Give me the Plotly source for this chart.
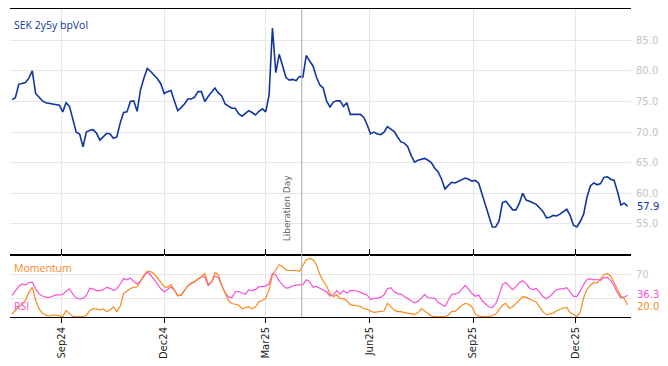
import pandas as pd
import plotly.graph_objects as go

# ---------------- data ----------------
start_date = "2024-07-19"
step = "3D"

bpvol = [
    75.3, 75.6, 77.8, 78.0, 78.1, 78.8, 80.0, 76.3, 75.7, 75.1,
    74.8, 74.7, 74.6, 74.6, 74.4, 73.3, 74.8, 74.2, 72.0, 70.0,
    69.7, 67.6, 70.0, 70.3, 70.4, 69.8, 68.7, 69.3, 69.8, 69.7,
    69.0, 69.2, 71.5, 73.2, 73.3, 75.0, 75.1, 73.4, 76.9, 78.8,
    80.4, 79.9, 79.3, 78.7, 77.9, 76.3, 76.6, 76.8, 75.1, 73.5,
    74.0, 74.6, 75.4, 75.4, 75.7, 76.6, 76.6, 75.0, 75.8, 76.5,
    77.2, 76.4, 75.9, 74.6, 74.2, 73.9, 73.9, 73.0, 72.6, 73.0,
    73.5, 73.2, 72.8, 73.4, 73.8, 73.3, 76.0, 87.0, 79.7, 82.7,
    80.9, 78.9, 78.5, 78.6, 78.4, 79.1, 79.0, 82.5, 81.6, 80.8,
    79.0, 77.7, 77.2, 75.1, 74.1, 74.9, 75.1, 75.1, 74.2, 74.8,
    72.9, 72.9, 72.8, 72.9, 72.4, 71.2, 69.7, 70.0, 69.7, 69.6,
    70.0, 70.9, 70.5, 70.1, 69.2, 68.4, 68.2, 67.6, 66.2, 65.1,
    65.4, 65.6, 65.7, 65.4, 65.0, 64.1, 63.5, 62.3, 60.7, 61.3,
    61.8, 61.7, 62.0, 62.3, 62.5, 62.3, 62.0, 62.1, 61.6, 59.8,
    57.9, 56.2, 54.5, 54.5, 55.5, 58.5, 58.7, 58.0, 57.3, 57.3,
    58.4, 60.0, 58.9, 58.7, 58.4, 58.2, 57.6, 57.0, 56.0, 56.1,
    56.4, 56.3, 56.6, 57.0, 57.4, 56.4, 54.8, 54.5, 55.4, 56.6,
    59.4, 61.2, 61.7, 61.4, 61.6, 62.6, 62.7, 62.3, 62.1, 60.3,
    58.1, 58.4, 57.9,
]

rsi = [
    36, 44, 51, 55, 53, 57.5, 58, 47, 38.5, 35,
    33, 32.5, 35, 36.7, 36.7, 37.5, 43, 47, 38, 31.5,
    30, 31, 36, 48, 46.5, 44, 44, 46, 49.4, 47.8,
    44, 47, 55, 64, 62, 65, 59, 55, 60, 68,
    75, 70, 62, 54, 47, 42, 46, 50, 45, 35,
    37, 45, 52, 57, 58.5, 63, 67, 67, 52, 59,
    68, 66, 52, 40, 33.5, 32.5, 42, 42.5, 40, 38,
    45, 44, 46, 50.5, 50.5, 51.5, 55, 72, 70, 60,
    53, 48, 49, 52, 53, 53.3, 54, 62, 59, 49.5,
    51, 48, 44.5, 42, 35, 37, 44, 38, 44, 39.5,
    44.5, 43.5, 43.3, 41, 38.5, 36.7, 29, 31, 31, 33,
    36.7, 47, 49, 42, 38.9, 38, 34, 31, 27, 23.5,
    26, 31.5, 37.5, 32, 31, 31, 24.5, 20.5, 17.5, 28,
    37.5, 38.5, 40, 46.5, 52.5, 46.5, 39, 34.5, 36.5, 27,
    21, 16.7, 15.8, 22, 36, 54, 57.5, 52, 45.5, 50.5,
    57, 60.5, 56, 48, 45.5, 47.5, 41.5, 33.5, 30.5, 34.5,
    40, 45.3, 47, 47, 49, 42, 34.5, 34.5, 43, 54,
    62.5, 63.5, 62, 62.5, 61, 65.6, 65.6, 61, 52, 40.5,
    32, 33, 36.3,
]

momentum = [
    5, 12, 17, 21, 28, 41, 49.4, 28, 14, 6,
    3, 1.7, 3, 3, 2, 0.5, 11, 6, 1, 0.5,
    0.5, 0.5, 3, 11, 13.5, 13.5, 11.7, 13.5, 9, 11.7,
    17, 9, 18, 39.5, 43.5, 47.5, 49.4, 50, 60, 70,
    76, 75.5, 72, 65.5, 58, 50.5, 49.5, 54, 46, 36,
    36, 44, 52, 55.5, 59, 63, 67, 72.5, 55, 58,
    74, 71, 52, 40.5, 27, 22.5, 20.8, 20, 13.8, 15,
    17.2, 13.5, 17, 25.6, 27.5, 31, 45, 70, 78, 87,
    84, 78.5, 77.5, 77.3, 77.5, 76, 85, 95.5, 97.5, 95.5,
    87, 71, 60, 52, 39, 34, 37, 31, 30.5, 27,
    20.5, 19.5, 19, 17.5, 14, 12.8, 10, 7.8, 8.5, 9.3,
    10, 22.8, 17.2, 11.5, 8.9, 8.9, 7.3, 6, 5.2, 4.4,
    7, 14, 10, 5, 1.5, 0.5, 0.5, 0.5, 0.5, 3.5,
    9, 9.3, 14.5, 19.5, 22.5, 21.3, 16.5, 5, 1.5, 0.5,
    0.5, 0.5, 2, 5, 11.5, 19.5, 22.8, 14.4, 17, 23,
    28.5, 33.5, 33, 29.5, 27, 25, 16, 8.5, 3.8, 4.8,
    6.5, 10.5, 13, 15, 16, 7.5, 4, 0.5, 8.5, 32,
    46, 53, 57.5, 56.5, 63.5, 70.5, 72.5, 68, 57.5, 45,
    35, 30.5, 20.0,
]

dates = pd.date_range(start_date, periods=len(bpvol), freq=step)

tick_dates = ["2024-09-01", "2024-12-01", "2025-03-01", "2025-06-01", "2025-09-01", "2025-12-01"]
tick_labels = ["Sep24", "Dec24", "Mar25", "Jun25", "Sep25", "Dec25"]
main_ticks = [55, 60, 65, 70, 75, 80, 85]
lower_ticks = [30, 70]
lower_tick_labels = ["", "70"]
event_date = "2025-04-02"
event_label = "Liberation Day"
title = "SEK 2y5y bpVol"

# ---------------- style ----------------
BLUE = "#0f35a3"
ORANGE = "#f98b1c"
MAGENTA = "#f550d8"
GRID = "#e6e6e6"
TICKGREY = "#c4c4c4"
FONT = "DejaVu Sans"
TFONT = "Open Sans"

x_range = ["2024-07-17 06:00", "2026-01-19"]
split = 0.2013

fig = go.Figure()
fig.add_trace(go.Scatter(x=dates, y=bpvol, mode="lines", line=dict(color=BLUE, width=1.6),
                         xaxis="x", yaxis="y", hoverinfo="skip"))
fig.add_trace(go.Scatter(x=dates, y=rsi, mode="lines", line=dict(color=MAGENTA, width=1.2),
                         xaxis="x2", yaxis="y2", hoverinfo="skip"))
fig.add_trace(go.Scatter(x=dates, y=momentum, mode="lines", line=dict(color=ORANGE, width=1.2),
                         xaxis="x2", yaxis="y2", hoverinfo="skip"))

fig.update_layout(
    width=660, height=358,
    margin=dict(l=2, r=37, t=1, b=49, autoexpand=False),
    paper_bgcolor="white", plot_bgcolor="white",
    showlegend=False,
    font=dict(family=FONT, size=10, color="#333"),
    xaxis=dict(domain=[0, 1], anchor="y", type="date", range=x_range,
               tickvals=tick_dates, ticktext=tick_labels, showticklabels=False,
               ticks="inside", ticklen=6, tickcolor="black", tickwidth=1,
               showline=True, linecolor="black", linewidth=1, mirror=True,
               showgrid=True, gridcolor=GRID, gridwidth=1, zeroline=False),
    yaxis=dict(domain=[split, 1], anchor="x", side="right", range=[49.93, 90.1],
               tickvals=main_ticks, tickformat=".1f", ticks="", showline=False,
               showgrid=True, gridcolor=GRID, zeroline=False, ticklabelstandoff=4,
               tickfont=dict(family=FONT, size=10, color=TICKGREY)),
    xaxis2=dict(domain=[0, 1], anchor="y2", type="date", range=x_range, matches="x",
                tickvals=tick_dates, ticktext=tick_labels, tickangle=-90,
                ticks="outside", ticklen=5, tickcolor="black", tickwidth=1,
                showline=True, linecolor="black", linewidth=1, mirror=True,
                showgrid=True, gridcolor=GRID, zeroline=False,
                tickfont=dict(family=FONT, size=10, color="#222")),
    yaxis2=dict(domain=[0, split], anchor="x2", side="right", range=[0, 103.3],
                tickvals=lower_ticks, ticktext=lower_tick_labels, ticks="",
                showline=False, showgrid=True, gridcolor=GRID, zeroline=False,
                ticklabelstandoff=4,
                tickfont=dict(family=FONT, size=10, color=TICKGREY)),
)

fig.add_shape(type="line", xref="x", yref="paper", x0=event_date, x1=event_date,
              y0=0, y1=1, line=dict(color="#a8a8a8", width=1))

fig.add_annotation(x=event_date, xref="x", y=0.24, yref="paper", text=event_label,
                   textangle=-90, showarrow=False, xanchor="right", yanchor="bottom",
                   xshift=-8, font=dict(family=FONT, size=9, color="#666"))

fig.add_annotation(x=0.004, xref="paper", y=0.948, yref="paper", text=title,
                   showarrow=False, xanchor="left", yanchor="middle",
                   font=dict(family=TFONT, size=10.5, color=BLUE))
fig.add_annotation(x=0.004, xref="paper", y=0.159, yref="paper", text="Momentum",
                   showarrow=False, xanchor="left", yanchor="middle",
                   font=dict(family=TFONT, size=10.5, color=ORANGE))
fig.add_annotation(x=0.004, xref="paper", y=0.036, yref="paper", text="RSI",
                   showarrow=False, xanchor="left", yanchor="middle",
                   font=dict(family=TFONT, size=10.5, color=MAGENTA))

# last value labels
fig.add_annotation(x=1, xref="paper", y=bpvol[-1], yref="y", text=f"{bpvol[-1]:.1f}",
                   showarrow=False, xanchor="left", yanchor="middle", xshift=5,
                   borderpad=0, font=dict(family=FONT, size=10, color=BLUE))
fig.add_annotation(x=1, xref="paper", y=rsi[-1], yref="y2", text=f"{rsi[-1]:.1f}",
                   showarrow=False, xanchor="left", yanchor="middle", xshift=5, yshift=1,
                   borderpad=0, font=dict(family=FONT, size=10, color=MAGENTA))
fig.add_annotation(x=1, xref="paper", y=momentum[-1], yref="y2", text=f"{momentum[-1]:.1f}",
                   showarrow=False, xanchor="left", yanchor="middle", xshift=5, yshift=-2,
                   borderpad=0, font=dict(family=FONT, size=10, color=ORANGE))

fig.write_html("out.html")
